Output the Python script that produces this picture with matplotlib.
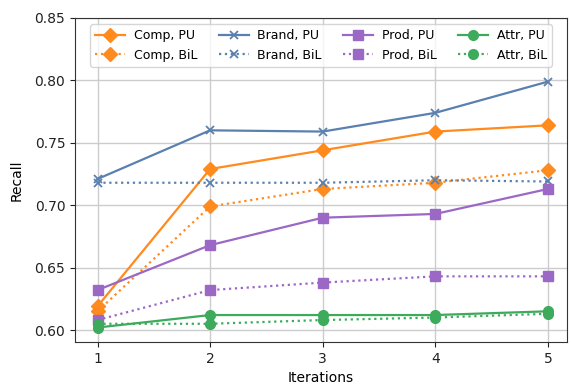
import matplotlib
matplotlib.use("Agg")
import matplotlib.pyplot as plt

iterations = [1, 2, 3, 4, 5]
comp_pu = [0.619, 0.729, 0.744, 0.759, 0.764]
comp_bil = [0.615, 0.699, 0.713, 0.718, 0.728]
brand_pu = [0.721, 0.760, 0.759, 0.774, 0.799]
brand_bil = [0.718, 0.718, 0.718, 0.720, 0.719]
prod_pu = [0.632, 0.668, 0.690, 0.693, 0.713]
prod_bil = [0.608, 0.632, 0.638, 0.643, 0.643]
attr_pu = [0.602, 0.612, 0.612, 0.612, 0.615]
attr_bil = [0.605, 0.605, 0.608, 0.610, 0.613]

c_orange = '#ff8a1e'
c_blue = '#5a80b0'
c_purple = '#9b68c6'
c_green = '#3daa5c'

fig = plt.figure(figsize=(5.71, 3.85), dpi=100)
ax = fig.add_axes([75/571, 1-342/385, (567-75)/571, (342-18)/385])

lw = 1.6
ms = 7
ax.plot(iterations, comp_pu, '-', color=c_orange, marker='D', ms=ms, lw=lw, label='Comp, PU')
ax.plot(iterations, comp_bil, ':', color=c_orange, marker='D', ms=ms, lw=lw, label='Comp, BiL')
ax.plot(iterations, brand_pu, '-', color=c_blue, marker='x', ms=6, mew=1.3, lw=lw, label='Brand, PU')
ax.plot(iterations, brand_bil, ':', color=c_blue, marker='x', ms=6, mew=1.3, lw=lw, label='Brand, BiL')
ax.plot(iterations, prod_pu, '-', color=c_purple, marker='s', ms=ms, lw=lw, label='Prod, PU')
ax.plot(iterations, prod_bil, ':', color=c_purple, marker='s', ms=ms, lw=lw, label='Prod, BiL')
ax.plot(iterations, attr_pu, '-', color=c_green, marker='o', ms=ms, lw=lw, label='Attr, PU')
ax.plot(iterations, attr_bil, ':', color=c_green, marker='o', ms=ms, lw=lw, label='Attr, BiL')

ax.set_xlim(0.8, 5.17)
ax.set_ylim(0.5904, 0.85)
ax.set_xticks(iterations)
ax.set_yticks([0.60, 0.65, 0.70, 0.75, 0.80, 0.85])
ax.set_yticklabels(['0.60', '0.65', '0.70', '0.75', '0.80', '0.85'])
ax.grid(True, color='#cccccc', lw=1)
ax.set_axisbelow(True)
for s in ax.spines.values():
    s.set_color('#333333')
ax.set_xlabel('Iterations', fontsize=10, labelpad=4)
ax.set_ylabel('Recall', fontsize=10, labelpad=8)
ax.tick_params(labelsize=10, colors='#222222')

ax.legend(loc='upper center', ncol=4, fontsize=9, frameon=True, framealpha=0.8,
          handlelength=2.4, handletextpad=0.7, columnspacing=1.7, borderaxespad=0.5)

fig.savefig('out.png', dpi=100)
